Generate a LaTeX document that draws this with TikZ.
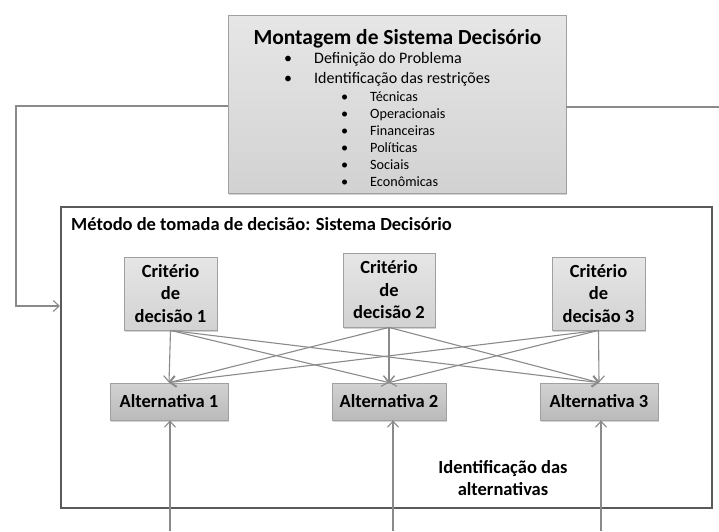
\documentclass[tikz,border=0pt]{standalone}
\usepackage{fontspec}
\setmainfont{Carlito}
\usetikzlibrary{arrows.meta,shadows}
\definecolor{boxtop}{HTML}{E6E6E6}
\definecolor{boxbot}{HTML}{D2D2D2}
\definecolor{alttop}{HTML}{D2D2D2}
\definecolor{altbot}{HTML}{BABABA}
\definecolor{edgegray}{HTML}{A0A0A0}
\definecolor{conngray}{HTML}{8A8A8A}
\definecolor{framegray}{HTML}{5A5A5A}
\begin{document}
\begin{tikzpicture}[x=1pt,y=-1pt,
  panel/.style={draw=edgegray, line width=0.8pt, top color=boxtop, bottom color=boxbot,
    drop shadow={shadow xshift=1.2pt, shadow yshift=-1.6pt, opacity=0.35},
    inner sep=0pt, align=center},
  altpanel/.style={panel, top color=alttop, bottom color=altbot},
  boldtxt/.style={font=\fontsize{18.5}{22.5}\selectfont\bfseries},
  topline/.style={anchor=base west, inner sep=0pt, font=\fontsize{16}{19}\selectfont},
  subline/.style={anchor=base west, inner sep=0pt, font=\fontsize{14.2}{17}\selectfont},
  conn/.style={draw=conngray, line width=1.1pt, -{Straight Barb[length=6pt,width=11pt]}},
  plainline/.style={draw=conngray, line width=1.1pt}]
\useasboundingbox (0,0) rectangle (719,531);

% frame
\node (frame) [draw=framegray, line width=2pt, minimum width=651pt, minimum height=301pt, inner sep=0pt] at (386.5,357.5) {};
\node (ftitle) [anchor=base west, inner sep=0pt, font=\fontsize{18.5}{22}\selectfont\bfseries] at (71,230) {Método de tomada de decisão: Sistema Decisório};

% top box
\node (top) [panel, minimum width=338pt, minimum height=178pt] at (397,104) {};
\node (ttitle) [anchor=base, inner sep=0pt, font=\fontsize{21.5}{26}\selectfont\bfseries] at (397.5,44) {Montagem de Sistema Decisório};
\node (b1) [topline] at (284,63) {•};
\node (l1) [topline] at (314,63) {Definição do Problema};
\node (b2) [topline] at (284,83) {•};
\node (l2) [topline] at (314,83) {Identificação das restrições};
\node (s1b) [subline] at (341,101) {•};
\node (s1) [subline] at (370,101) {Técnicas};
\node (s2b) [subline] at (341,118) {•};
\node (s2) [subline] at (370,118) {Operacionais};
\node (s3b) [subline] at (341,135) {•};
\node (s3) [subline] at (370,135) {Financeiras};
\node (s4b) [subline] at (341,152) {•};
\node (s4) [subline] at (370,152) {Políticas};
\node (s5b) [subline] at (341,169) {•};
\node (s5) [subline] at (370,169) {Sociais};
\node (s6b) [subline] at (341,186) {•};
\node (s6) [subline] at (370,186) {Econômicas};

% criteria
\node (C1) [panel, boldtxt, minimum width=93pt, minimum height=73pt] at (170.5,293.5) {Critério\\de\\decisão 1};
\node (C2) [panel, boldtxt, minimum width=92pt, minimum height=74pt] at (389,290) {Critério\\de\\decisão 2};
\node (C3) [panel, boldtxt, minimum width=93pt, minimum height=73pt] at (598.5,293.5) {Critério\\de\\decisão 3};

% alternatives
\node (A1) [altpanel, boldtxt, minimum width=118pt, minimum height=37pt] at (169,401.5) {Alternativa 1};
\node (A2) [altpanel, boldtxt, minimum width=114pt, minimum height=37pt] at (389,401.5) {Alternativa 2};
\node (A3) [altpanel, boldtxt, minimum width=118pt, minimum height=37pt] at (599,401.5) {Alternativa 3};

\node (ident) [boldtxt, align=center, inner sep=0pt] at (503,478) {Identificação das\\alternativas};

% criteria -> alternatives
\foreach \c in {C1,C2,C3}{
  \foreach \a in {A1,A2,A3}{
    \draw[conn] (\c.south) -- (\a.north);
  }
}

% left feedback connector
\coordinate (lc) at (16,106);
\coordinate (la) at (16,306);
\draw[conn] (top.west |- lc) -- (lc) -- (la) -- (la -| frame.west);

% right line
\coordinate (rc) at (719,107);
\draw[plainline] (top.east |- rc) -- (rc);

% bottom inputs
\coordinate (u1) at (170,531);
\coordinate (u2) at (393,531);
\coordinate (u3) at (601,531);
\draw[conn] (u1) -- (u1 |- A1.south);
\draw[conn] (u2) -- (u2 |- A2.south);
\draw[conn] (u3) -- (u3 |- A3.south);
\end{tikzpicture}
\end{document}
